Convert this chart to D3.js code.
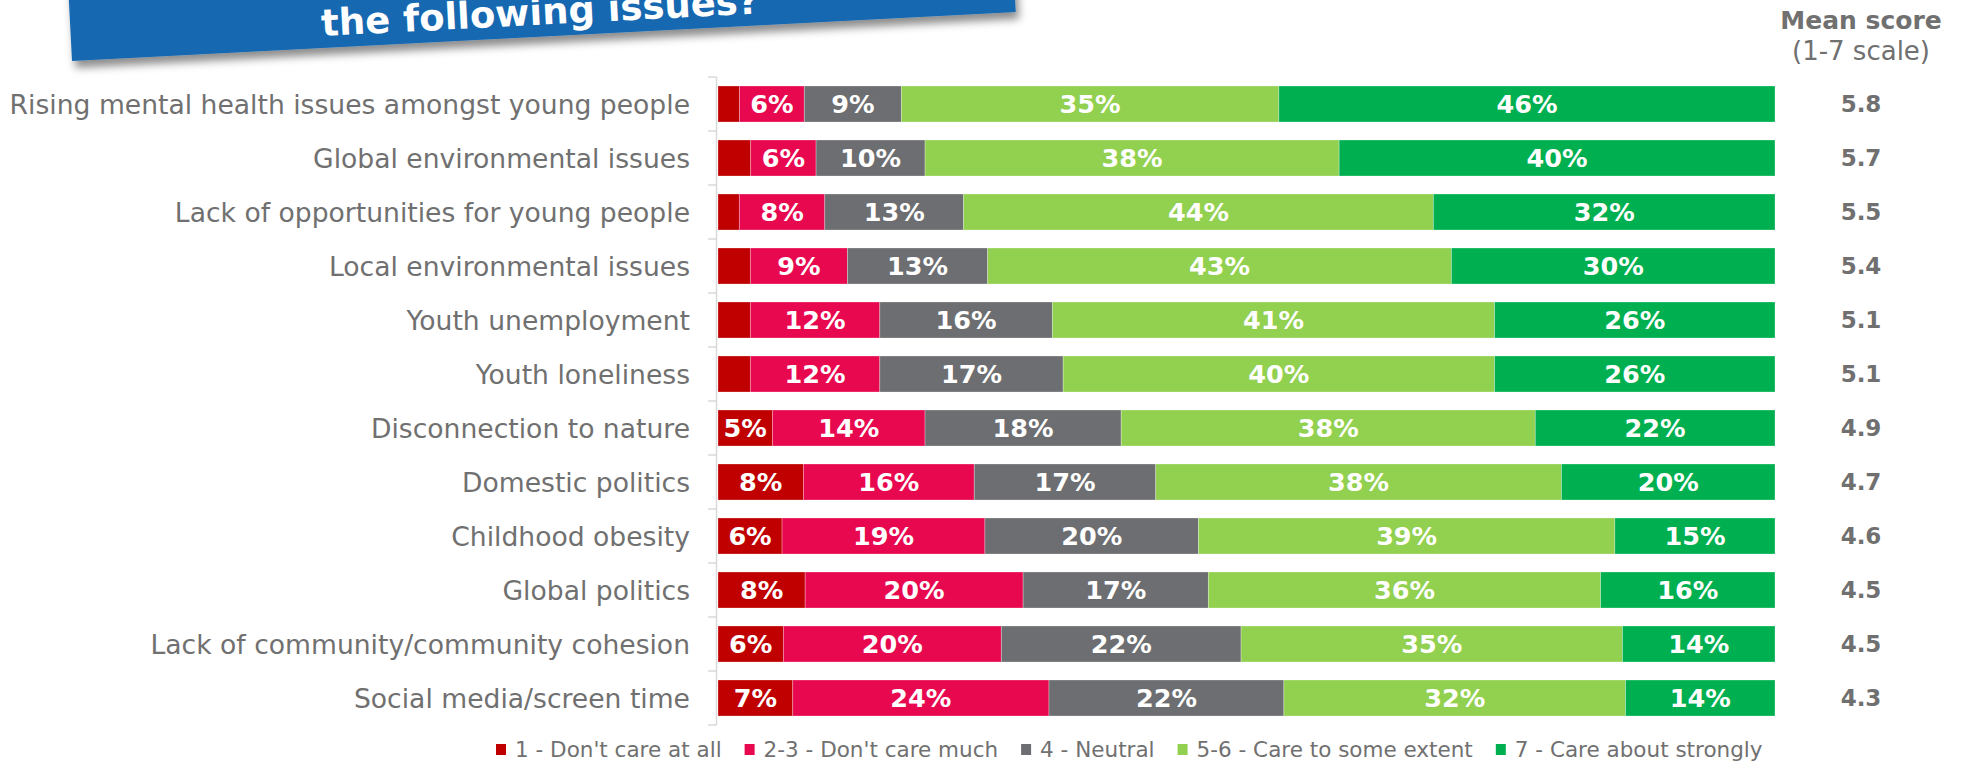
<!DOCTYPE html>
<html>
<head>
<meta charset="utf-8">
<script src="https://cdn.jsdelivr.net/npm/d3@7"></script>
<style>
  html, body { margin: 0; padding: 0; background: #ffffff; }
  svg { display: block; }
  text { font-family: "DejaVu Sans", Verdana, sans-serif; }
</style>
</head>
<body>
<svg id="chart" width="1964" height="761"></svg>
<script>
// Issues, in the order they are listed
const issues = [
  "Rising mental health issues amongst young people",
  "Global environmental issues",
  "Lack of opportunities for young people",
  "Local environmental issues",
  "Youth unemployment",
  "Youth loneliness",
  "Disconnection to nature",
  "Domestic politics",
  "Childhood obesity",
  "Global politics",
  "Lack of community/community cohesion",
  "Social media/screen time"
];

// Share of respondents (%) per answer band
const dontCareAtAll   = [2, 3, 2, 3, 3, 3, 5, 8, 6, 8, 6, 7];
const dontCareMuch    = [6, 6, 8, 9, 12, 12, 14, 16, 19, 20, 20, 24];
const neutral         = [9, 10, 13, 13, 16, 17, 18, 17, 20, 17, 22, 22];
const careSomeExtent  = [35, 38, 44, 43, 41, 40, 38, 38, 39, 36, 35, 32];
const careStrongly    = [46, 40, 32, 30, 26, 26, 22, 20, 15, 16, 14, 14];

// Mean on the 1-7 scale
const meanScores = [5.8, 5.7, 5.5, 5.4, 5.1, 5.1, 4.9, 4.7, 4.6, 4.5, 4.5, 4.3];

const bandKeys   = ["b1", "b23", "b4", "b56", "b7"];
const bandLabels = ["1 - Don't care at all", "2-3 - Don't care much", "4 - Neutral",
                    "5-6 - Care to some extent", "7 - Care about strongly"];
const bandColors = ["#c00000", "#e8084f", "#6d6e71", "#92d050", "#00b050"];

const rows = issues.map((name, i) => ({
  name,
  b1: dontCareAtAll[i],
  b23: dontCareMuch[i],
  b4: neutral[i],
  b56: careSomeExtent[i],
  b7: careStrongly[i],
  mean: meanScores[i]
}));

const svg = d3.select("#chart");

// ---- Title banner (tilted ribbon with drop shadow) ----
const defs = svg.append("defs");
const shadow = defs.append("filter").attr("id", "bannerShadow")
  .attr("x", "-5%").attr("y", "-50%").attr("width", "110%").attr("height", "200%");
shadow.append("feDropShadow")
  .attr("dx", 3).attr("dy", 7).attr("stdDeviation", 4)
  .attr("flood-color", "#000").attr("flood-opacity", 0.45);

const banner = svg.append("g")
  .attr("transform", "translate(72,61) rotate(-2.97)");
banner.append("rect")
  .attr("x", 0).attr("y", -120).attr("width", 945).attr("height", 120)
  .attr("fill", "#1668b1")
  .attr("filter", "url(#bannerShadow)");
banner.append("text")
  .attr("x", 470).attr("y", -12)
  .attr("text-anchor", "middle")
  .attr("fill", "#ffffff")
  .attr("font-weight", "bold")
  .attr("font-size", 37)
  .text("the following issues?");

// ---- Scales ----
const x = d3.scaleLinear().domain([0, 1]).range([718, 1775]);
const y = d3.scaleBand().domain(issues).range([77, 725])
  .paddingInner(1 / 3).paddingOuter(1 / 6);

const stack = d3.stack().keys(bandKeys).offset(d3.stackOffsetExpand);
const series = stack(rows);

// ---- Category axis: line with ticks between rows ----
const axisColor = "#d9d9d9";
const step = y.step();
const boundaries = d3.range(issues.length + 1).map(i => 77 + i * step);
svg.append("line")
  .attr("x1", 716.5).attr("x2", 716.5)
  .attr("y1", 77).attr("y2", 725)
  .attr("stroke", axisColor).attr("stroke-width", 1.5);
svg.append("g").selectAll("line").data(boundaries).join("line")
  .attr("x1", 708).attr("x2", 716.5)
  .attr("y1", d => d).attr("y2", d => d)
  .attr("stroke", axisColor).attr("stroke-width", 1.5);

svg.append("g").selectAll("text").data(issues).join("text")
  .attr("x", 690)
  .attr("y", d => y(d) + y.bandwidth() / 2)
  .attr("dy", "0.36em")
  .attr("text-anchor", "end")
  .attr("fill", "#707070")
  .attr("font-size", 26.6)
  .text(d => d);

// ---- Stacked bars ----
const layers = svg.append("g").selectAll("g").data(series).join("g")
  .attr("fill", (d, i) => bandColors[i]);

layers.selectAll("rect").data(d => d).join("rect")
  .attr("x", d => x(d[0]))
  .attr("y", d => y(d.data.name))
  .attr("width", d => x(d[1]) - x(d[0]))
  .attr("height", y.bandwidth())
  .attr("stroke", "#ffffff").attr("stroke-opacity", 0.35).attr("stroke-width", 0.8);

layers.selectAll("text").data(d => d.map(p => ({ p, key: d.key })))
  .join("text")
  .filter(d => d.p.data[d.key] >= 5)
  .attr("x", d => (x(d.p[0]) + x(d.p[1])) / 2)
  .attr("y", d => y(d.p.data.name) + y.bandwidth() / 2)
  .attr("dy", "0.36em")
  .attr("text-anchor", "middle")
  .attr("fill", "#ffffff")
  .attr("font-weight", "bold")
  .attr("font-size", 25.5)
  .text(d => d.p.data[d.key] + "%");

// ---- Mean score column ----
const meanX = 1861;
svg.append("text")
  .attr("x", meanX).attr("y", 29)
  .attr("text-anchor", "middle")
  .attr("fill", "#707070")
  .attr("font-weight", "bold")
  .attr("font-size", 25)
  .text("Mean score");
svg.append("text")
  .attr("x", meanX).attr("y", 60)
  .attr("text-anchor", "middle")
  .attr("fill", "#707070")
  .attr("font-size", 26)
  .text("(1-7 scale)");
svg.append("g").selectAll("text").data(rows).join("text")
  .attr("x", meanX)
  .attr("y", d => y(d.name) + y.bandwidth() / 2)
  .attr("dy", "0.36em")
  .attr("text-anchor", "middle")
  .attr("fill", "#707070")
  .attr("font-weight", "bold")
  .attr("font-size", 23)
  .text(d => d.mean.toFixed(1));

// ---- Legend ----
const legend = svg.append("g").attr("transform", "translate(496,749)");
let lx = 0;
bandLabels.forEach((label, i) => {
  const item = legend.append("g").attr("transform", `translate(${lx},0)`);
  item.append("rect")
    .attr("x", 0).attr("y", -5).attr("width", 10).attr("height", 11)
    .attr("fill", bandColors[i]);
  const t = item.append("text")
    .attr("x", 19).attr("y", 0).attr("dy", "0.36em")
    .attr("fill", "#707070")
    .attr("font-size", 21.5)
    .text(label);
  lx += 19 + t.node().getComputedTextLength() + 23;
});
</script>
</body>
</html>
